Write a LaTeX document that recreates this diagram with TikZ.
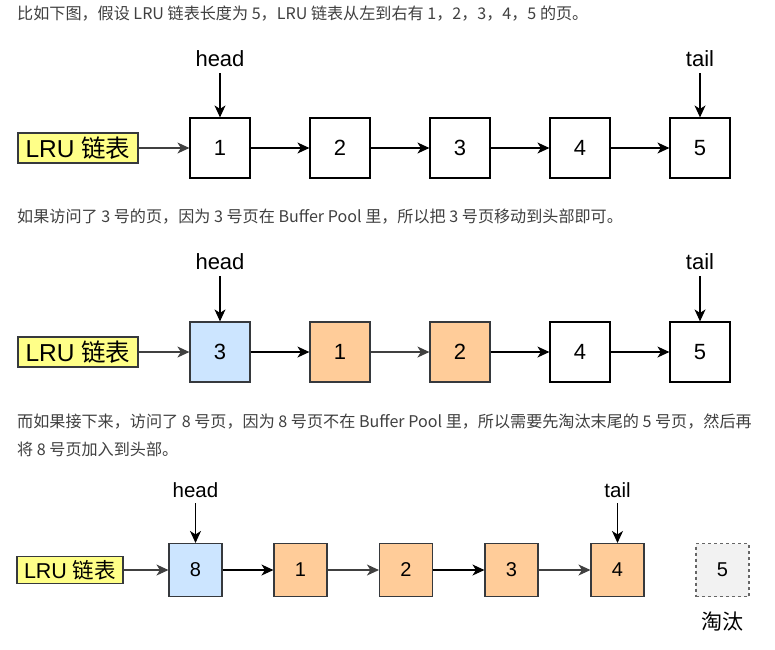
\documentclass[tikz,border=0pt]{standalone}
\usepackage{fontspec}
\setmainfont{Liberation Sans}
\newfontfamily\cjk{Noto Sans CJK SC}
\usetikzlibrary{arrows.meta}
\definecolor{txt}{HTML}{404040}
\definecolor{lruyellow}{HTML}{FFFF88}
\definecolor{pblue}{HTML}{CCE5FF}
\definecolor{porange}{HTML}{FFCC99}
\definecolor{pgray}{HTML}{F2F2F2}
\definecolor{bord}{HTML}{36393D}
\definecolor{lnkgray}{HTML}{404040}
\tikzset{
  para/.style={anchor=west, inner sep=0, text=txt, font=\cjk\fontsize{16.1}{27}\selectfont},
  pagebox/.style={draw=black, line width=1.2pt, minimum width=60pt, minimum height=60pt, inner sep=0, font=\fontsize{22}{22}\selectfont},
  spage/.style={draw=bord, line width=1.1pt, minimum width=53pt, minimum height=53pt, inner sep=0, font=\fontsize{20}{20}\selectfont},
  lrubox/.style={draw=bord, line width=1.1pt, fill=lruyellow, minimum width=120pt, minimum height=30pt, inner sep=0, font=\fontsize{24.5}{25}\selectfont},
  slrubox/.style={draw=bord, line width=1.1pt, fill=lruyellow, minimum width=106pt, minimum height=27pt, inner sep=0, font=\fontsize{21.5}{22}\selectfont},
  ptr/.style={anchor=base, inner sep=0, font=\fontsize{22}{22}\selectfont},
  sptr/.style={anchor=base, inner sep=0, font=\fontsize{20.5}{21}\selectfont},
  lnk/.style={-{Stealth[length=12pt,width=11pt,inset=3.5pt]}, line width=1.2pt},
  glnk/.style={lnk, draw=lnkgray},
}
\begin{document}
\begin{tikzpicture}[x=1pt,y=-1pt]
\useasboundingbox[fill=white] (0,0) rectangle (775,649);

% ---------- paragraph 1 ----------
\node[para] (t1) at (17,14) {比如下图，假设 LRU 链表长度为 5，LRU 链表从左到右有 1，2，3，4，5 的页。};

% ---------- diagram 1 ----------
\node[lrubox] (l1) at (78,148) {LRU {\cjk 链表}};
\node[pagebox] (a1) at (220,148) {1};
\node[pagebox] (a2) at (340,148) {2};
\node[pagebox] (a3) at (460,148) {3};
\node[pagebox] (a4) at (580,148) {4};
\node[pagebox] (a5) at (700,148) {5};
\node[ptr] (h1) at (220,66) {head};
\node[ptr] (e1) at (700,66) {tail};
\draw[glnk] (l1) -- (a1);
\draw[lnk] (a1) -- (a2);
\draw[lnk] (a2) -- (a3);
\draw[lnk] (a3) -- (a4);
\draw[lnk] (a4) -- (a5);
\draw[lnk, shorten <=7pt] (h1.south) -- (a1.north);
\draw[lnk, shorten <=7pt] (e1.south) -- (a5.north);

% ---------- paragraph 2 ----------
\node[para] (t2) at (17,217) {如果访问了 3 号的页，因为 3 号页在 Buffer Pool 里，所以把 3 号页移动到头部即可。};

% ---------- diagram 2 ----------
\node[lrubox] (l2) at (78,352) {LRU {\cjk 链表}};
\node[pagebox, draw=bord, fill=pblue] (b1) at (220,352) {3};
\node[pagebox, draw=bord, fill=porange] (b2) at (340,352) {1};
\node[pagebox, draw=bord, fill=porange] (b3) at (460,352) {2};
\node[pagebox] (b4) at (580,352) {4};
\node[pagebox] (b5) at (700,352) {5};
\node[ptr] (h2) at (220,269) {head};
\node[ptr] (e2) at (700,269) {tail};
\draw[glnk] (l2) -- (b1);
\draw[lnk] (b1) -- (b2);
\draw[glnk] (b2) -- (b3);
\draw[lnk] (b3) -- (b4);
\draw[lnk] (b4) -- (b5);
\draw[lnk, shorten <=7pt] (h2.south) -- (b1.north);
\draw[lnk, shorten <=7pt] (e2.south) -- (b5.north);

% ---------- paragraph 3 ----------
\node[para] (t3) at (17,422) {而如果接下来，访问了 8 号页，因为 8 号页不在 Buffer Pool 里，所以需要先淘汰末尾的 5 号页，然后再};
\node[para] (t4) at (17,449) {将 8 号页加入到头部。};

% ---------- diagram 3 ----------
\node[slrubox] (l3) at (70,570) {LRU {\cjk 链表}};
\node[spage, fill=pblue] (c1) at (195.5,570) {8};
\node[spage, fill=porange] (c2) at (300.5,570) {1};
\node[spage, fill=porange] (c3) at (406,570) {2};
\node[spage, fill=porange] (c4) at (511.5,570) {3};
\node[spage, fill=porange] (c5) at (617.5,570) {4};
\node[spage, draw=gray!80!black, dashed, dash pattern=on 3pt off 3pt, fill=pgray] (c6) at (722.5,570) {5};
\node[inner sep=0, font=\cjk\fontsize{21}{21}\selectfont] (ev) at (722.5,622) {淘汰};
\node[sptr] (h3) at (195.5,497) {head};
\node[sptr] (e3) at (617.5,497) {tail};
\draw[glnk] (l3) -- (c1);
\draw[lnk] (c1) -- (c2);
\draw[glnk] (c2) -- (c3);
\draw[lnk] (c3) -- (c4);
\draw[glnk] (c4) -- (c5);
\draw[lnk, shorten <=6pt] (h3.south) -- (c1.north);
\draw[lnk, shorten <=6pt] (e3.south) -- (c5.north);
\end{tikzpicture}
\end{document}
